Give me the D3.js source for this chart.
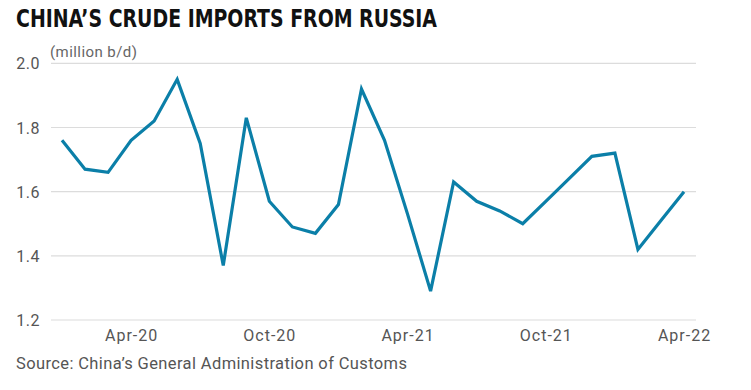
<!DOCTYPE html>
<html><head><meta charset="utf-8">
<script src="https://cdn.jsdelivr.net/npm/d3@7"></script>
<style>body{margin:0;background:#fff;}svg{display:block;}</style>
</head><body><svg id="c" width="751" height="390"></svg>
<script>
const months = ["Jan-20","Feb-20","Mar-20","Apr-20","May-20","Jun-20","Jul-20","Aug-20","Sep-20","Oct-20","Nov-20","Dec-20",
"Jan-21","Feb-21","Mar-21","Apr-21","May-21","Jun-21","Jul-21","Aug-21","Sep-21","Oct-21","Nov-21","Dec-21",
"Jan-22","Feb-22","Mar-22","Apr-22"];
const imports = [1.76,1.67,1.66,1.76,1.82,1.95,1.75,1.37,1.83,1.57,1.49,1.47,
1.56,1.92,1.76,1.53,1.29,1.63,1.57,1.54,1.50,1.57,1.64,1.71,
1.72,1.42,1.51,1.60];
const xTickLabels = ["Apr-20","Oct-20","Apr-21","Oct-21","Apr-22"];
const yTicks = [1.2,1.4,1.6,1.8,2.0];
const title = "CHINA\u2019S CRUDE IMPORTS FROM RUSSIA";
const unit = "(million b/d)";
const source = "Source: China\u2019s General Administration of Customs";

const svg = d3.select("#c");
const font = "Roboto, 'Open Sans', sans-serif";
const gridL = 51, gridR = 696;
const x = d3.scalePoint().domain(months).range([62,684]);
const y = d3.scaleLinear().domain([1.2,2.0]).range([320,63.3]);

svg.append("text").attr("x",16).attr("y",27).text(title)
  .attr("font-family","'Liberation Sans Narrow','DejaVu Sans Condensed',sans-serif")
  .attr("font-weight","bold").attr("font-size",24).attr("fill","#111")
  .attr("textLength",421).attr("lengthAdjust","spacingAndGlyphs");

const yAxis = d3.axisLeft(y).tickValues(yTicks).tickFormat(d3.format(".1f")).tickSize(0).tickPadding(11);
const gy = svg.append("g").attr("transform",`translate(${gridL},0)`).call(yAxis);
gy.select(".domain").remove();
gy.selectAll("text").attr("font-family",font).attr("font-size",16).attr("fill","#555")
  .attr("letter-spacing","0.5px").attr("dy","0.35em");

svg.append("g").selectAll("line").data(yTicks).join("line")
  .attr("x1",gridL).attr("x2",gridR).attr("y1",d=>y(d)).attr("y2",d=>y(d))
  .attr("stroke","#dcdcdc").attr("stroke-width",1.2);

const xAxis = d3.axisBottom(x).tickValues(xTickLabels).tickSize(0).tickPadding(10);
const gx = svg.append("g").attr("transform",`translate(0,${y(1.2)})`).call(xAxis);
gx.select(".domain").remove();
gx.selectAll("text").attr("font-family",font).attr("font-size",16).attr("fill","#555")
  .attr("letter-spacing","1px");

svg.append("text").attr("x",50).attr("y",57).text(unit)
  .attr("font-family",font).attr("font-size",15).attr("fill","#666")
  .attr("textLength",87).attr("lengthAdjust","spacing");

const line = d3.line().x((d,i)=>x(months[i])).y(d=>y(d));
svg.append("path").datum(imports).attr("d",line).attr("fill","none")
  .attr("stroke","#0b7fa8").attr("stroke-width",3.2).attr("stroke-linejoin","miter");

svg.append("text").attr("x",16).attr("y",369).text(source)
  .attr("font-family",font).attr("font-size",16.5).attr("fill","#555")
  .attr("textLength",391).attr("lengthAdjust","spacing");
</script></body></html>
